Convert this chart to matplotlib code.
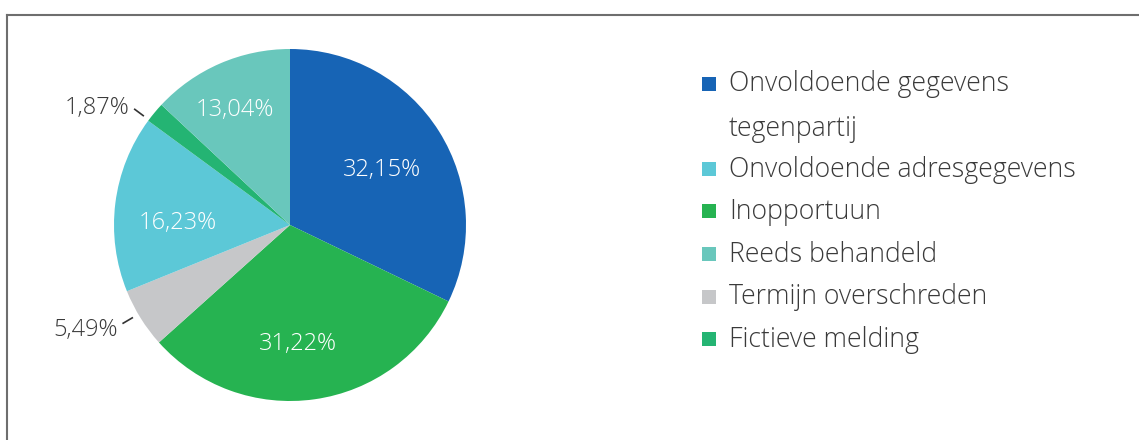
import numpy as np
import matplotlib
matplotlib.use("Agg")
import matplotlib.pyplot as plt
from matplotlib.lines import Line2D
from matplotlib.patches import Rectangle

plt.rcParams['font.family'] = ['Open Sans', 'DejaVu Sans']

# slices in drawing order (clockwise from the top)
slice_names = ["Onvoldoende gegevens tegenpartij", "Inopportuun", "Termijn overschreden",
               "Onvoldoende adresgegevens", "Fictieve melding", "Reeds behandeld"]
slice_values = [32.15, 31.22, 5.49, 16.23, 1.87, 13.04]
slice_colors = ["#1764b5", "#26b351", "#c6c7c9", "#5cc8d7", "#24b473", "#69c7bc"]
outside = [False, False, True, False, True, False]
label_dist = [0.62, 0.66, 1.10, 0.64, 1.10, 0.74]
label_turn = [0, -4, -1.5, 4.5, 3, 1.5]   # small angle nudges (degrees)

# legend order
legend_names = [["Onvoldoende gegevens", "tegenpartij"], ["Onvoldoende adresgegevens"],
                ["Inopportuun"], ["Reeds behandeld"], ["Termijn overschreden"],
                ["Fictieve melding"]]
legend_colors = ["#1764b5", "#5cc8d7", "#26b351", "#69c7bc", "#c6c7c9", "#24b473"]

W, H = 1139, 440
fig = plt.figure(figsize=(W / 100, H / 100), dpi=100)

# frame lines (top and left)
fig.add_artist(Line2D([7 / W, 1], [1 - 15 / H, 1 - 15 / H], color="#6e6e6e", lw=1.5))
fig.add_artist(Line2D([7 / W, 7 / W], [0, 1 - 15 / H], color="#6e6e6e", lw=1.5))

ax = fig.add_axes([114 / W, 39 / H, 352 / W, 352 / H])
wedges, _ = ax.pie(slice_values, colors=slice_colors, startangle=90, counterclock=False,
                   radius=1, wedgeprops=dict(linewidth=0))
ax.set_xlim(-1, 1)
ax.set_ylim(-1, 1)
ax.set_aspect("equal")
ax.axis("off")

total = sum(slice_values)
cum = 0
for val, out, d, t in zip(slice_values, outside, label_dist, label_turn):
    mid = 90 - (cum + val / 2) / total * 360
    cum += val
    txt = f"{val:.2f}%".replace(".", ",")
    a = np.deg2rad(mid + t)
    if out:
        x1, y1 = 1.04 * np.cos(a), 1.04 * np.sin(a)
        x2, y2 = d * np.cos(a), d * np.sin(a)
        ax.plot([x1, x2], [y1, y2], color="#333333", lw=1.2, clip_on=False)
        dy = 0.025 if y2 > 0 else -0.02
        ax.text(x2 - 0.03, y2 + dy, txt, ha="right", va="center_baseline",
                fontsize=17, color="#3a3a3a", fontweight="light")
    else:
        ax.text(d * np.cos(a), d * np.sin(a), txt, ha="center", va="center_baseline",
                fontsize=17, color="white", fontweight="light")

# legend
y = 81
for lines, col in zip(legend_names, legend_colors):
    fig.add_artist(Rectangle((702 / W, 1 - (y + 10) / H), 14 / W, 14 / H,
                             color=col, lw=0))
    for k, line in enumerate(lines):
        fig.text(729 / W, 1 - (y + 44 * k) / H, line, ha="left", va="center_baseline",
                 fontsize=19.2, color="#3a3a3a", fontweight="light")
    y += 42.5 * len(lines)

fig.savefig("out.png", dpi=100)
